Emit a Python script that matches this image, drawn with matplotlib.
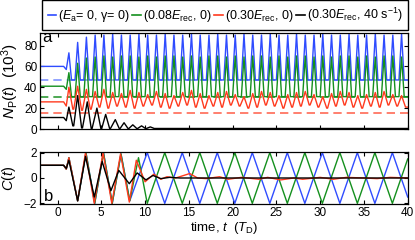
import matplotlib
matplotlib.use("Agg")
import matplotlib.pyplot as plt

plt.rcParams['font.family'] = ['Liberation Sans', 'DejaVu Sans']
plt.rcParams['mathtext.fontset'] = 'custom'
plt.rcParams['mathtext.rm'] = 'Liberation Sans'
plt.rcParams['mathtext.it'] = 'Liberation Sans:italic'

# legend labels
labels = ["($E_{\\rm a}$= 0, γ= 0)", "(0.08$E_{\\rm rec}$, 0)",
          "(0.30$E_{\\rm rec}$, 0)", "(0.30$E_{\\rm rec}$, 40 s$^{-1}$)"]
colors = ["#2f4cff", "#14901e", "#ff3a1e", "#000000"]
dash_colors = ["#7f93ff", "#2f9a36", "#ff6a55"]

# panel a: N_P(t) in 10^3
flat_level = [60, 41, 26, 11]
dip_t = 1.0
dip_level = [57, 38, 22, 8]
dashed_level = [47, 31, 15]

peak_t = [1.3, 2.3, 3.3, 4.3, 5.3, 6.3, 7.3, 8.3, 9.3, 10.3, 11.3, 12.3, 13.3,
          14.3, 15.3, 16.3, 17.3, 18.3, 19.3, 20.3, 21.3, 22.3, 23.3, 24.3,
          25.3, 26.3, 27.3, 28.3, 29.3, 30.3, 31.3, 32.3, 33.3, 34.3, 35.3,
          36.3, 37.3, 38.3, 39.3]
blue_pk = [73, 83, 88, 90, 90, 91, 90, 90, 91, 90, 90, 91, 90, 90, 91, 90, 90,
           91, 90, 90, 91, 90, 90, 91, 90, 90, 91, 90, 90, 91, 90, 90, 91, 90,
           90, 91, 90, 90, 91]
blue_low = [47] * 39
green_pk = [54, 63, 68, 69, 70, 69, 70, 70, 69, 70, 69, 70, 70, 69, 70, 69, 70,
            70, 69, 70, 69, 70, 70, 69, 70, 69, 70, 70, 69, 70, 69, 70, 70, 69,
            70, 69, 70, 70, 69]
green_low = [31] * 39
red_pk = [40, 41, 38, 36, 38, 35, 34, 37, 35, 33, 36, 34, 32, 35, 37, 34, 32,
          35, 36, 33, 31, 34, 36, 35, 32, 33, 35, 36, 33, 31, 34, 36, 35, 32,
          33, 35, 36, 33, 32]
red_low = [19, 18, 19, 21, 20, 22, 21, 20, 22, 23, 21, 20, 22, 23, 21, 20, 22,
           21, 23, 22, 20, 21, 23, 22, 20, 21, 22, 23, 21, 20, 22, 23, 21, 20,
           22, 21, 23, 22, 21]
black_peak_t = [1.3, 2.3, 3.4, 4.5, 5.5, 6.6, 7.6, 8.6, 9.6, 10.6]
black_pk = [21, 32, 26, 20, 14, 9, 6, 4, 3, 2]
black_low = [3, 1, 0.5, 0.5, 0.5, 0.5, 0.5, 0.5, 0.5, 0.5]

# panel b: C(t), corner points of each curve
cg_t = [-2, 0.7, 1.0, 1.3, 2.3, 3.25, 4.25, 5.25, 6.25, 7.25, 8.25, 9.25,
        10.25, 12.25, 14.25, 16.25, 18.25, 20.25, 22.25, 24.25, 26.25, 28.25,
        30.25, 32.25, 34.25, 36.25, 38.25, 40]
cg = [1, 1, 0.7, 1.6, -1.8, 2.0, -2.0, 2.0, -2.0, 1.9, -1.8, 1.6,
      -2, 2, -2, 2, -2, 2, -2, 2, -2, 2, -2, 2, -2, 2, -2, 1.5]
cb_t = [-2, 0.7, 1.0, 1.3, 2.3, 3.25, 4.25, 5.25, 6.25, 7.25, 8.25,
        10.25, 12.25, 14.25, 16.25, 18.25, 20.25, 22.25, 24.25, 26.25, 28.25,
        30.25, 32.25, 34.25, 36.25, 38.25, 40]
cb = [1, 1, 0.7, 1.6, -1.8, 2.0, -2.0, 2.0, -2.0, 1.9, -1.8,
      2, -2, 2, -2, 2, -2, 2, -2, 2, -2, 2, -2, 2, -2, 2, -1.5]
cr_t = [-2, 0.7, 1.0, 1.3, 2.3, 3.2, 4.2, 5.2, 6.2, 7.2, 8.2, 9.0, 10.0, 11.0,
        11.8, 12.5, 13.5, 15.1, 16.0, 17.0, 18.5, 19.5, 21.0, 23.0, 24.0, 25.5,
        27.0, 28.0, 30.0, 31.5, 33.0, 35.0, 36.5, 38.0, 40]
cr = [1, 1, 0.7, 1.6, -1.8, 2.0, -2.0, 2.0, -2.0, 1.9, -1.9, 1.4, -0.3, 0.3,
      -0.1, 0.1, 0.0, 0.35, 0.0, -0.05, 0.1, -0.1, 0.05, -0.1, 0.05, -0.15,
      0.0, -0.1, 0.05, -0.1, 0.05, 0.0, -0.05, 0.05, 0.0]
ck_t = [-2, 0.7, 1.0, 1.3, 2.3, 3.2, 4.2, 5.1, 6.1, 7.0, 8.2, 9.1, 10.1, 10.9,
        11.8, 12.8, 14.0, 40]
ck = [1, 1, 0.75, 1.4, -1.8, 1.7, -1.5, 1.3, -1.0, 0.6, -0.45, 0.4, -0.15,
      0.2, -0.05, 0.05, 0.0, 0.0]


def pulses(flat, dip, pt, pk, low, w):
    t = [-2, dip_t - 0.3, dip_t]
    y = [flat, flat, dip]
    for p, h, lo in zip(pt, pk, low):
        t += [p, p + w]
        y += [h, lo]
        t.append(p + 1 - w)
        y.append(lo)
    t[-1] = 40
    return t, y


fig = plt.figure(figsize=(4.15, 2.4), dpi=100)
ax1 = fig.add_axes([0.0964, 0.4625, 0.886, 0.4])
ax2 = fig.add_axes([0.0964, 0.15, 0.886, 0.2167])

for lev, c in zip(dashed_level, dash_colors):
    ax1.plot([-2, 40], [lev, lev], color=c, lw=1.2, dashes=(5, 3))

series = [(blue_pk, blue_low, peak_t, 0.3), (green_pk, green_low, peak_t, 0.3),
          (red_pk, red_low, peak_t, 0.45), (black_pk, black_low, black_peak_t, 0.45)]
for i, (pk, low, pt, w) in enumerate(series):
    t, y = pulses(flat_level[i], dip_level[i], pt, pk, low, w)
    ax1.plot(t, y, color=colors[i], lw=1.0)

ax2.plot(cb_t, cb, color=colors[0], lw=1.0)
ax2.plot(cg_t, cg, color=colors[1], lw=1.0)
ax2.plot(cr_t, cr, color=colors[2], lw=1.0)
ax2.plot(ck_t, ck, color=colors[3], lw=1.0)

ax1.set_xlim(-2, 40)
ax1.set_ylim(0, 92)
ax1.set_yticks([0, 20, 40, 60, 80])
ax1.set_xticks(range(0, 41, 5))
ax1.set_xticklabels([])
ax1.set_ylabel("$N_{\\rm P}(t)$  (10$^3$)", fontsize=11, labelpad=2)
ax1.text(-1.7, 83, "a", fontsize=12)

ax2.set_xlim(-2, 40)
ax2.set_ylim(-2.05, 2.05)
ax2.set_yticks([-2, 0, 2])
ax2.set_xticks(range(0, 41, 5))
ax2.set_ylabel("$C(t)$", fontsize=10.5, labelpad=4)
ax2.set_xlabel("time, $t$  ($T_{\\rm D}$)", fontsize=9.5, labelpad=1)
ax2.text(-1.6, -1.8, "b", fontsize=12)

for ax in (ax1, ax2):
    ax.tick_params(direction='in', top=True, right=True, length=3,
                   labelsize=8.5, pad=2, width=0.8)
    for s in ax.spines.values():
        s.set_linewidth(0.9)

handles = [plt.Line2D([], [], color=c, lw=1.2) for c in colors]
fig.legend(handles, labels, loc='center', ncol=4, mode='expand',
           bbox_to_anchor=(0.101, 0.883, 0.882, 0.108), borderaxespad=0,
           fontsize=9, handlelength=0.7, handletextpad=0.15, columnspacing=0.1,
           fancybox=False, edgecolor='black', framealpha=1, borderpad=0.45)

fig.savefig("out.png", dpi=100)
